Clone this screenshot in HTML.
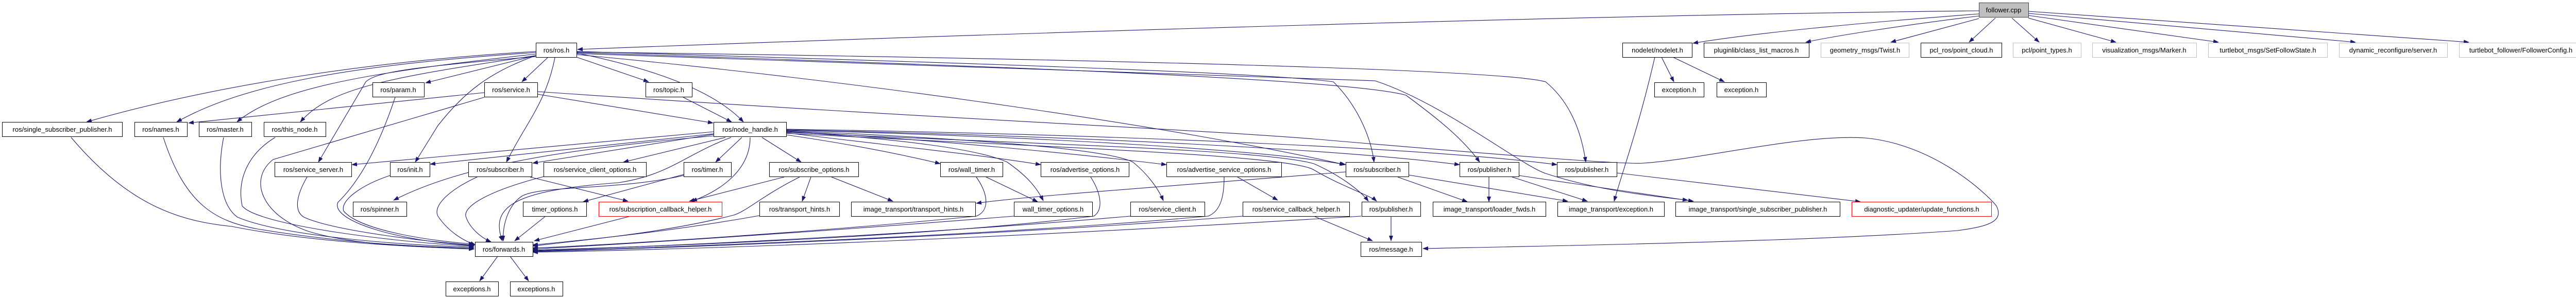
<!DOCTYPE html>
<html><head><meta charset="utf-8"><style>
html,body{margin:0;padding:0;background:#fff;}
svg{display:block;}
text{font-family:"Liberation Sans",sans-serif;font-size:13px;fill:#000;}
.e{fill:none;stroke:#191970;stroke-width:1.1;marker-end:url(#a);}
.n{fill:#fff;stroke:#000;stroke-width:1;}
.g{fill:#fff;stroke:#bfbfbf;stroke-width:1;}
.r{fill:#fff;stroke:#ff0000;stroke-width:1;}
</style></head><body>
<svg width="5017" height="581" viewBox="0 0 5017 581" xmlns="http://www.w3.org/2000/svg">
<defs><marker id="a" markerUnits="userSpaceOnUse" markerWidth="11" markerHeight="8" refX="10" refY="4" orient="auto"><path d="M0,0 L11,4 L0,8 z" fill="#191970"/></marker></defs>
<g>
<!-- follower edges -->
<path class="e" d="M3841,21 C3000,30 1800,70 1121,96"/>
<path class="e" d="M3841,27 C3600,45 3400,65 3286,84"/>
<path class="e" d="M3841,31 C3700,48 3560,70 3505,82"/>
<path class="e" d="M3841,36 L3670,82"/>
<path class="e" d="M3873,35 L3822,82"/>
<path class="e" d="M3905,35 L3958,82"/>
<path class="e" d="M3937,35 L4107,82"/>
<path class="e" d="M3937,30 L4306,82"/>
<path class="e" d="M3937,26 L4572,82"/>
<path class="e" d="M3937,22 L4792,82"/>
<!-- ros.h edges -->
<path class="e" d="M1040,100 C700,120 400,170 168,237"/>
<path class="e" d="M1040,102 C700,125 480,160 343,237"/>
<path class="e" d="M1040,105 C720,140 540,170 460,237"/>
<path class="e" d="M1040,108 C760,150 640,170 583,237"/>
<path class="e" d="M1040,108 L826,161"/>
<path class="e" d="M1063,112 L1013,159"/>
<path class="e" d="M1119,111 L1259,159"/>
<path class="e" d="M1119,103 C1250,130 1380,170 1443,237"/>
<path class="e" d="M1077,112 C1060,200 1020,240 983,315"/>
<path class="e" d="M1040,110 C800,130 730,140 710,159 L618,315"/>
<path class="e" d="M1040,108 C950,140 900,180 850,244 L806,315"/>
<path class="e" d="M1119,100 C1800,120 2450,140 2588,159 C2630,200 2660,260 2667,315"/>
<path class="e" d="M1119,102 C1800,125 2600,150 2729,185 C2790,230 2840,270 2872,315"/>
<path class="e" d="M1119,101 C1800,110 2900,130 3000,159 C3050,200 3070,260 3078,315"/>
<path class="e" d="M1119,104 C1900,130 2600,150 2669,157 C2800,200 2950,320 3000,337 C3100,370 3200,380 3276,389"/>
<path class="e" d="M1119,106 C1700,160 2300,250 2610,320"/>
<!-- service.h -->
<path class="e" d="M940,180 L366,239"/>
<path class="e" d="M940,189 C800,230 600,290 530,310 C480,350 510,420 600,450 C700,480 850,480 920,484"/>
<path class="e" d="M1043,183 L1384,239"/>
<path class="e" d="M1043,178 C1800,230 2300,250 2550,270 C2900,300 3150,320 3190,317 C3300,310 3500,260 3620,268 C3750,280 3850,370 3875,400 C3890,430 3860,440 3800,448 C3500,470 3000,478 2762,483"/>
<path class="e" d="M1043,184 L1043,184"/>
<!-- topic -->
<path class="e" d="M1326,189 L1420,237"/>
<!-- node_handle edges -->
<path class="e" d="M1385,256 L683,320"/>
<path class="e" d="M1385,260 L835,319"/>
<path class="e" d="M1385,264 C1100,290 900,320 764,389"/>
<path class="e" d="M1385,261 L1034,317"/>
<path class="e" d="M1408,267 L1210,315"/>
<path class="e" d="M1440,267 L1389,315"/>
<path class="e" d="M1479,267 L1555,315"/>
<path class="e" d="M1456,267 C1456,330 1400,370 1343,391"/>
<path class="e" d="M1419,267 C1330,300 1300,340 1200,355 C1000,370 950,400 975,468"/>
<path class="e" d="M1526,262 C1650,280 1750,300 1825,318"/>
<path class="e" d="M1526,258 C1700,280 1900,300 2020,320"/>
<path class="e" d="M1526,255 C1800,270 2100,300 2264,320"/>
<path class="e" d="M1526,256 C1750,270 1900,290 1955,315 C1990,340 2010,360 2025,390"/>
<path class="e" d="M1526,254 C1900,270 2150,290 2199,315 C2230,340 2250,370 2258,390"/>
<path class="e" d="M1526,253 C2000,265 2450,290 2612,320"/>
<path class="e" d="M1526,252 C2100,265 2600,290 2833,320"/>
<path class="e" d="M1526,251 C2200,262 2800,290 3022,320"/>
<path class="e" d="M1526,257 C2000,280 2450,290 2550,318 C2600,340 2640,370 2656,391"/>
<path class="e" d="M1526,259 C2000,285 2500,300 2550,330 C2600,360 2660,380 2672,391"/>
<!-- lower -->
<path class="e" d="M138,267 C250,400 350,430 450,440 C600,470 800,480 920,484"/>
<path class="e" d="M317,267 C360,400 420,430 500,445 C650,470 800,480 920,482"/>
<path class="e" d="M434,267 C420,340 430,400 461,422 C550,460 800,478 920,480"/>
<path class="e" d="M534,267 C480,300 460,350 470,400 C500,440 800,474 920,478"/>
<path class="e" d="M767,189 C730,300 690,360 656,393 C640,430 780,470 920,477"/>
<path class="e" d="M596,344 C575,380 570,410 590,422 C650,450 850,472 920,476"/>
<path class="e" d="M757,341 C700,360 660,390 667,410 C700,450 850,470 920,474"/>
<path class="e" d="M926,344 C870,370 840,400 850,420 C870,450 900,468 923,476"/>
<path class="e" d="M1029,344 L1219,391"/>
<path class="e" d="M1056,343 C950,370 900,400 904,420 C910,440 930,460 953,470"/>
<path class="e" d="M1327,341 C1200,370 1050,360 1013,381 C985,400 975,440 977,468"/>
<path class="e" d="M1327,339 L1132,392"/>
<path class="e" d="M1059,420 L999,468"/>
<path class="e" d="M1224,420 L1037,468"/>
<path class="e" d="M1552,344 C1480,380 1450,410 1424,418 C1300,450 1150,465 1034,478"/>
<path class="e" d="M1522,344 L1338,391"/>
<path class="e" d="M1574,344 L1557,391"/>
<path class="e" d="M1614,344 L1733,391"/>
<path class="e" d="M1474,419 C1300,450 1150,465 1034,476"/>
<path class="e" d="M2612,334 C2300,360 2000,380 1895,395"/>
<path class="e" d="M1895,344 C1920,380 1920,410 1895,420 C1600,450 1200,475 1034,482"/>
<path class="e" d="M1914,344 L2014,392"/>
<path class="e" d="M1968,420 C1600,450 1200,475 1034,484"/>
<path class="e" d="M2117,344 C2140,380 2140,410 2123,420 C1800,460 1300,478 1034,486"/>
<path class="e" d="M2194,420 C1800,455 1300,478 1034,487"/>
<path class="e" d="M2376,344 C2376,380 2370,410 2345,420 C1900,460 1300,480 1034,488"/>
<path class="e" d="M2412,420 C1900,460 1300,482 1034,489"/>
<path class="e" d="M2642,420 C2000,460 1400,484 1034,490"/>
<path class="e" d="M2402,344 L2480,389"/>
<path class="e" d="M2550,420 L2664,468"/>
<path class="e" d="M2700,420 L2700,468"/>
<path class="e" d="M2713,344 L2848,392"/>
<path class="e" d="M2734,340 L3043,391"/>
<path class="e" d="M2890,344 L2890,392"/>
<path class="e" d="M2935,344 L3081,391"/>
<path class="e" d="M2948,341 L3287,391"/>
<path class="e" d="M3138,336 L3611,392"/>
<path class="e" d="M3212,111 C3180,250 3150,330 3133,391"/>
<path class="e" d="M3225,111 L3249,159"/>
<path class="e" d="M3247,111 L3347,159"/>
<path class="e" d="M966,498 L931,546"/>
<path class="e" d="M990,498 L1026,546"/>
</g>
<g>
<rect class="g" x="3841.5" y="5.5" width="96" height="28" style="fill:#bfbfbf;stroke:#404040"/><text x="3889" y="24" text-anchor="middle">follower.cpp</text>

<rect class="n" x="1040.5" y="83.5" width="79" height="28"/><text x="1080" y="102" text-anchor="middle">ros/ros.h</text>
<rect class="n" x="3149.5" y="83.5" width="135" height="28"/><text x="3217" y="102" text-anchor="middle">nodelet/nodelet.h</text>
<rect class="n" x="3307.5" y="83.5" width="204" height="28"/><text x="3409" y="102" text-anchor="middle">pluginlib/class_list_macros.h</text>
<rect class="g" x="3534.5" y="83.5" width="171" height="28"/><text x="3620" y="102" text-anchor="middle">geometry_msgs/Twist.h</text>
<rect class="n" x="3728.5" y="83.5" width="157" height="28"/><text x="3807" y="102" text-anchor="middle">pcl_ros/point_cloud.h</text>
<rect class="g" x="3907.5" y="83.5" width="132" height="28"/><text x="3973" y="102" text-anchor="middle">pcl/point_types.h</text>
<rect class="g" x="4061.5" y="83.5" width="202" height="28"/><text x="4162" y="102" text-anchor="middle">visualization_msgs/Marker.h</text>
<rect class="g" x="4286.5" y="83.5" width="231" height="28"/><text x="4402" y="102" text-anchor="middle">turtlebot_msgs/SetFollowState.h</text>
<rect class="g" x="4540.5" y="83.5" width="210" height="28"/><text x="4645" y="102" text-anchor="middle">dynamic_reconfigure/server.h</text>
<rect class="g" x="4773.5" y="83.5" width="240" height="28"/><text x="4893" y="102" text-anchor="middle">turtlebot_follower/FollowerConfig.h</text>

<rect class="n" x="723.5" y="160.5" width="100" height="28"/><text x="773" y="179" text-anchor="middle">ros/param.h</text>
<rect class="n" x="940.5" y="160.5" width="103" height="28"/><text x="992" y="179" text-anchor="middle">ros/service.h</text>
<rect class="n" x="1253.5" y="160.5" width="90" height="28"/><text x="1298" y="179" text-anchor="middle">ros/topic.h</text>
<rect class="n" x="3211.5" y="160.5" width="96" height="28"/><text x="3259" y="179" text-anchor="middle">exception.h</text>
<rect class="n" x="3332.5" y="160.5" width="96" height="28"/><text x="3380" y="179" text-anchor="middle">exception.h</text>

<rect class="n" x="4.5" y="237.5" width="233" height="28"/><text x="121" y="256" text-anchor="middle">ros/single_subscriber_publisher.h</text>
<rect class="n" x="261.5" y="237.5" width="102" height="28"/><text x="312" y="256" text-anchor="middle">ros/names.h</text>
<rect class="n" x="386.5" y="237.5" width="102" height="28"/><text x="437" y="256" text-anchor="middle">ros/master.h</text>
<rect class="n" x="512.5" y="237.5" width="120" height="28"/><text x="572" y="256" text-anchor="middle">ros/this_node.h</text>
<rect class="n" x="1385.5" y="237.5" width="141" height="28"/><text x="1456" y="256" text-anchor="middle">ros/node_handle.h</text>

<rect class="n" x="533.5" y="315.5" width="149" height="28"/><text x="608" y="334" text-anchor="middle">ros/service_server.h</text>
<rect class="n" x="757.5" y="315.5" width="77" height="28"/><text x="796" y="334" text-anchor="middle">ros/init.h</text>
<rect class="n" x="909.5" y="315.5" width="123" height="28"/><text x="971" y="334" text-anchor="middle">ros/subscriber.h</text>
<rect class="n" x="1055.5" y="315.5" width="199" height="28"/><text x="1155" y="334" text-anchor="middle">ros/service_client_options.h</text>
<rect class="n" x="1327.5" y="315.5" width="92" height="28"/><text x="1373" y="334" text-anchor="middle">ros/timer.h</text>
<rect class="n" x="1493.5" y="315.5" width="173" height="28"/><text x="1580" y="334" text-anchor="middle">ros/subscribe_options.h</text>
<rect class="n" x="1825.5" y="315.5" width="121" height="28"/><text x="1886" y="334" text-anchor="middle">ros/wall_timer.h</text>
<rect class="n" x="2020.5" y="315.5" width="171" height="28"/><text x="2106" y="334" text-anchor="middle">ros/advertise_options.h</text>
<rect class="n" x="2264.5" y="315.5" width="223" height="28"/><text x="2376" y="334" text-anchor="middle">ros/advertise_service_options.h</text>
<rect class="n" x="2612.5" y="315.5" width="122" height="28"/><text x="2673" y="334" text-anchor="middle">ros/subscriber.h</text>
<rect class="n" x="2833.5" y="315.5" width="115" height="28"/><text x="2891" y="334" text-anchor="middle">ros/publisher.h</text>
<rect class="n" x="3022.5" y="315.5" width="116" height="28"/><text x="3080" y="334" text-anchor="middle">ros/publisher.h</text>

<rect class="n" x="685.5" y="392.5" width="104" height="28"/><text x="737" y="411" text-anchor="middle">ros/spinner.h</text>
<rect class="n" x="1015.5" y="392.5" width="123" height="28"/><text x="1077" y="411" text-anchor="middle">timer_options.h</text>
<rect class="r" x="1162.5" y="392.5" width="239" height="28"/><text x="1282" y="411" text-anchor="middle">ros/subscription_callback_helper.h</text>
<rect class="n" x="1474.5" y="392.5" width="155" height="28"/><text x="1552" y="411" text-anchor="middle">ros/transport_hints.h</text>
<rect class="n" x="1652.5" y="392.5" width="241" height="28"/><text x="1773" y="411" text-anchor="middle">image_transport/transport_hints.h</text>
<rect class="n" x="1968.5" y="392.5" width="152" height="28"/><text x="2044" y="411" text-anchor="middle">wall_timer_options.h</text>
<rect class="n" x="2194.5" y="392.5" width="144" height="28"/><text x="2266" y="411" text-anchor="middle">ros/service_client.h</text>
<rect class="n" x="2412.5" y="392.5" width="207" height="28"/><text x="2516" y="411" text-anchor="middle">ros/service_callback_helper.h</text>
<rect class="n" x="2643.5" y="392.5" width="114" height="28"/><text x="2700" y="411" text-anchor="middle">ros/publisher.h</text>
<rect class="n" x="2781.5" y="392.5" width="219" height="28"/><text x="2891" y="411" text-anchor="middle">image_transport/loader_fwds.h</text>
<rect class="n" x="3023.5" y="392.5" width="207" height="28"/><text x="3127" y="411" text-anchor="middle">image_transport/exception.h</text>
<rect class="n" x="3252.5" y="392.5" width="319" height="28"/><text x="3412" y="411" text-anchor="middle">image_transport/single_subscriber_publisher.h</text>
<rect class="r" x="3594.5" y="392.5" width="271" height="28"/><text x="3730" y="411" text-anchor="middle">diagnostic_updater/update_functions.h</text>

<rect class="n" x="922.5" y="470.5" width="112" height="28"/><text x="978" y="489" text-anchor="middle">ros/forwards.h</text>
<rect class="n" x="2641.5" y="470.5" width="118" height="28"/><text x="2700" y="489" text-anchor="middle">ros/message.h</text>

<rect class="n" x="865.5" y="547.5" width="102" height="28"/><text x="916" y="566" text-anchor="middle">exceptions.h</text>
<rect class="n" x="990.5" y="547.5" width="102" height="28"/><text x="1041" y="566" text-anchor="middle">exceptions.h</text>
</g>
</svg>
</body></html>
